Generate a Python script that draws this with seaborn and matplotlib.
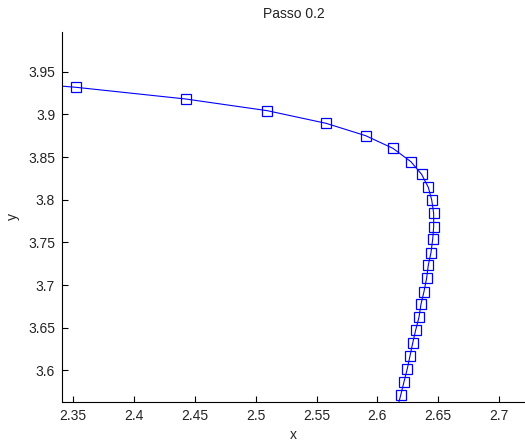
import matplotlib
matplotlib.use("Agg")
import matplotlib.pyplot as plt
import seaborn as sns
import pandas as pd

# Data (line continues beyond the visible frame at both ends)
x_vals = [2.230, 2.3522, 2.4424, 2.5095, 2.5578, 2.5904, 2.6128, 2.6276, 2.6364,
          2.6419, 2.6447, 2.6463, 2.6463, 2.6455, 2.6441, 2.6419, 2.6405, 2.6383,
          2.6359, 2.6342, 2.6315, 2.6290, 2.6268, 2.6246, 2.6219, 2.6192, 2.6165]
y_vals = [3.9460, 3.9317, 3.9180, 3.9043, 3.8895, 3.8750, 3.8602, 3.8445, 3.8297,
          3.8145, 3.7996, 3.7840, 3.7683, 3.7539, 3.7380, 3.7234, 3.7079, 3.6921,
          3.6777, 3.6621, 3.6472, 3.6316, 3.6167, 3.6018, 3.5866, 3.5710, 3.5560]
x_ticks = [2.35, 2.4, 2.45, 2.5, 2.55, 2.6, 2.65, 2.7]
x_tick_labels = ["2.35", "2.4", "2.45", "2.5", "2.55", "2.6", "2.65", "2.7"]
y_ticks = [3.6, 3.65, 3.7, 3.75, 3.8, 3.85, 3.9, 3.95]
y_tick_labels = ["3.6", "3.65", "3.7", "3.75", "3.8", "3.85", "3.9", "3.95"]
title = "Passo 0.2"

df = pd.DataFrame({"x": x_vals, "y": y_vals})

sns.set_style("white")
plt.rcParams["font.family"] = ["Liberation Sans", "DejaVu Sans"]
plt.rcParams["font.size"] = 10

fig = plt.figure(figsize=(5.25, 4.44), dpi=100)
ax = fig.add_axes([62 / 525, 1 - 401.7 / 444, 1 - 62 / 525, (401.7 - 32) / 444])

sns.lineplot(data=df, x="x", y="y", sort=False, estimator=None, ax=ax,
             color=(0, 0, 1), linewidth=0.8, marker="s", markersize=6.5,
             markerfacecolor="none", markeredgecolor=(0, 0, 1), markeredgewidth=0.9)

ax.set_xlim(2.3407, 2.7214)
ax.set_ylim(3.5633, 3.9965)
ax.set_xticks(x_ticks)
ax.set_xticklabels(x_tick_labels)
ax.set_yticks(y_ticks)
ax.set_yticklabels(y_tick_labels)

for s in ["top", "right"]:
    ax.spines[s].set_visible(False)
for s in ["left", "bottom"]:
    ax.spines[s].set_color("black")
    ax.spines[s].set_linewidth(0.8)

ax.tick_params(direction="in", length=4, width=0.8, colors="black",
               labelcolor="#222222", labelsize=10, pad=5,
               bottom=True, left=True)

ax.set_xlabel("x", fontsize=10, color="#222222", labelpad=4)
ax.set_ylabel("y", fontsize=10, color="#222222", labelpad=6)
ax.set_title(title, fontsize=10, color="#222222", pad=10)

fig.savefig("out.png", dpi=100, facecolor="white")
